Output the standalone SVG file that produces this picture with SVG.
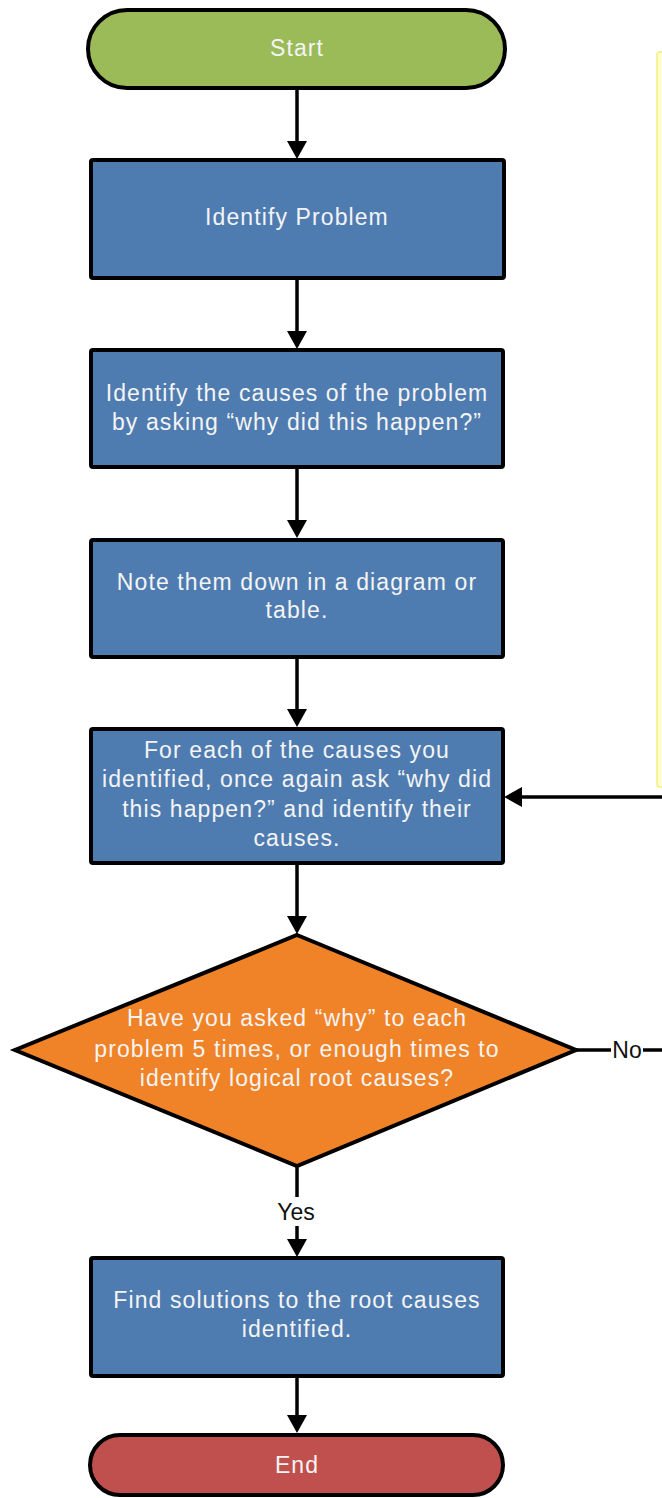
<svg xmlns="http://www.w3.org/2000/svg" width="662" height="1498" viewBox="0 0 662 1498">
<style>
.box{fill:#4f7cb0;stroke:#000;stroke-width:4}
.start{fill:#9bbb59;stroke:#000;stroke-width:4}
.end{fill:#c0504d;stroke:#000;stroke-width:4}
.dec{fill:#f08327;stroke:#000;stroke-width:4;stroke-linejoin:miter}
.t{font-family:"Liberation Sans",Arial,sans-serif;font-size:23px;fill:#f4f4f4;text-anchor:middle;letter-spacing:1.1px}
.lbl{font-family:"Liberation Sans",Arial,sans-serif;font-size:23px;fill:#111;text-anchor:middle}
.c{fill:none;stroke:#000;stroke-width:3.5}
</style>
<defs>
<marker id="ah" viewBox="0 0 18 20" markerUnits="userSpaceOnUse" markerWidth="18" markerHeight="20" refX="0" refY="10" orient="auto">
<path d="M0,0 L18,10 L0,20 z" fill="#000"/>
</marker>
</defs>
<rect width="662" height="1498" fill="#fff"/>
<g id="note">
<rect x="657" y="52" width="12" height="735" rx="3" fill="#ffffcc" stroke="#f4ef80" stroke-width="1.5"/>
</g>
<g id="connectors">
<line class="c" x1="297" y1="89" x2="297" y2="141" marker-end="url(#ah)"/>
<line class="c" x1="297" y1="278" x2="297" y2="331" marker-end="url(#ah)"/>
<line class="c" x1="297" y1="467" x2="297" y2="520" marker-end="url(#ah)"/>
<line class="c" x1="297" y1="657" x2="297" y2="709" marker-end="url(#ah)"/>
<line class="c" x1="297" y1="863" x2="297" y2="916" marker-end="url(#ah)"/>
<line class="c" x1="297" y1="1166" x2="297" y2="1197"/>
<line class="c" x1="297" y1="1226" x2="297" y2="1239" marker-end="url(#ah)"/>
<line class="c" x1="297" y1="1376" x2="297" y2="1415" marker-end="url(#ah)"/>
<line class="c" x1="576" y1="1050" x2="611" y2="1050"/>
<line class="c" x1="643" y1="1050" x2="662" y2="1050"/>
<line class="c" x1="662" y1="797" x2="522" y2="797" marker-end="url(#ah)"/>
<text class="lbl" x="627" y="1058">No</text>
<text class="lbl" x="296" y="1220">Yes</text>
</g>
<g id="start">
<rect class="start" x="88" y="10" width="417" height="78" rx="39"/>
<text class="t" x="297" y="56">Start</text>
</g>
<g id="identify-problem">
<rect class="box" x="91" y="160" width="413" height="118" rx="2"/>
<text class="t" x="297" y="225">Identify Problem</text>
</g>
<g id="identify-causes">
<rect class="box" x="91" y="350" width="412" height="117" rx="2"/>
<text class="t" x="297" y="401">Identify the causes of the problem</text>
<text class="t" x="297" y="430">by asking “why did this happen?”</text>
</g>
<g id="note-down">
<rect class="box" x="91" y="540" width="412" height="117" rx="2"/>
<text class="t" x="297" y="590">Note them down in a diagram or</text>
<text class="t" x="297" y="618">table.</text>
</g>
<g id="ask-again">
<rect class="box" x="91" y="729" width="412" height="134" rx="2"/>
<text class="t" x="297" y="758">For each of the causes you</text>
<text class="t" x="297" y="787">identified, once again ask “why did</text>
<text class="t" x="297" y="817">this happen?” and identify their</text>
<text class="t" x="297" y="846">causes.</text>
</g>
<g id="decision">
<polygon class="dec" points="297,935 576,1050 297,1166 15,1050"/>
<text class="t" x="297" y="1026">Have you asked “why” to each</text>
<text class="t" x="297" y="1057">problem 5 times, or enough times to</text>
<text class="t" x="297" y="1086">identify logical root causes?</text>
</g>
<g id="find-solutions">
<rect class="box" x="91" y="1258" width="412" height="118" rx="2"/>
<text class="t" x="297" y="1308">Find solutions to the root causes</text>
<text class="t" x="297" y="1337">identified.</text>
</g>
<g id="end">
<rect class="end" x="90" y="1435" width="413" height="60" rx="30"/>
<text class="t" x="297" y="1473">End</text>
</g>
</svg>
